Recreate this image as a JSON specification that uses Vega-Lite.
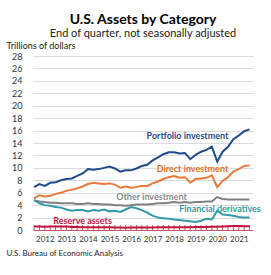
{
  "$schema": "https://vega.github.io/schema/vega-lite/v6.json",
  "width": 220,
  "height": 174,
  "autosize": "none",
  "padding": {"left": 33, "top": 56, "right": 18, "bottom": 45},
  "background": "white",
  "config": {"view": {"stroke": null}, "font": "Lato"},
  "resolve": {"axis": {"x": "independent", "y": "independent"}},
  "title": {
    "text": "U.S. Assets by Category",
    "subtitle": "End of quarter, not seasonally adjusted",
    "anchor": "middle",
    "font": "Lato",
    "fontSize": 14,
    "fontWeight": "bold",
    "color": "#000000",
    "subtitleFont": "Lato",
    "subtitleFontSize": 11,
    "subtitleColor": "#222222",
    "subtitlePadding": 1,
    "offset": 2
  },
  "datasets": {
    "assets": [
      {"t": 2011.5, "Portfolio investment": 6.9, "Direct investment": 5.1, "Other investment": 4.8, "Financial derivatives": 4.8, "Reserve assets": 0.55},
      {"t": 2011.75, "Portfolio investment": 7.4, "Direct investment": 5.6, "Other investment": 4.6, "Financial derivatives": 4.3, "Reserve assets": 0.55},
      {"t": 2012.0, "Portfolio investment": 7.1, "Direct investment": 5.4, "Other investment": 4.5, "Financial derivatives": 4.0, "Reserve assets": 0.54},
      {"t": 2012.25, "Portfolio investment": 7.6, "Direct investment": 5.5, "Other investment": 4.4, "Financial derivatives": 3.9, "Reserve assets": 0.56},
      {"t": 2012.5, "Portfolio investment": 7.7, "Direct investment": 5.8, "Other investment": 4.4, "Financial derivatives": 3.7, "Reserve assets": 0.57},
      {"t": 2012.75, "Portfolio investment": 8.0, "Direct investment": 6.0, "Other investment": 4.3, "Financial derivatives": 3.6, "Reserve assets": 0.57},
      {"t": 2013.0, "Portfolio investment": 8.2, "Direct investment": 6.3, "Other investment": 4.3, "Financial derivatives": 3.3, "Reserve assets": 0.55},
      {"t": 2013.25, "Portfolio investment": 8.3, "Direct investment": 6.5, "Other investment": 4.3, "Financial derivatives": 3.1, "Reserve assets": 0.48},
      {"t": 2013.5, "Portfolio investment": 8.7, "Direct investment": 6.7, "Other investment": 4.2, "Financial derivatives": 3.2, "Reserve assets": 0.49},
      {"t": 2013.75, "Portfolio investment": 9.1, "Direct investment": 7.0, "Other investment": 4.2, "Financial derivatives": 3.2, "Reserve assets": 0.45},
      {"t": 2014.0, "Portfolio investment": 9.8, "Direct investment": 7.4, "Other investment": 4.3, "Financial derivatives": 3.0, "Reserve assets": 0.45},
      {"t": 2014.25, "Portfolio investment": 9.7, "Direct investment": 7.6, "Other investment": 4.2, "Financial derivatives": 3.2, "Reserve assets": 0.46},
      {"t": 2014.5, "Portfolio investment": 9.8, "Direct investment": 7.5, "Other investment": 4.2, "Financial derivatives": 3.1, "Reserve assets": 0.45},
      {"t": 2014.75, "Portfolio investment": 10.0, "Direct investment": 7.4, "Other investment": 4.1, "Financial derivatives": 3.3, "Reserve assets": 0.43},
      {"t": 2015.0, "Portfolio investment": 10.2, "Direct investment": 7.5, "Other investment": 4.1, "Financial derivatives": 3.0, "Reserve assets": 0.43},
      {"t": 2015.25, "Portfolio investment": 9.9, "Direct investment": 7.3, "Other investment": 4.0, "Financial derivatives": 3.1, "Reserve assets": 0.42},
      {"t": 2015.5, "Portfolio investment": 9.4, "Direct investment": 6.8, "Other investment": 4.0, "Financial derivatives": 2.9, "Reserve assets": 0.40},
      {"t": 2015.75, "Portfolio investment": 9.6, "Direct investment": 7.0, "Other investment": 3.9, "Financial derivatives": 3.3, "Reserve assets": 0.38},
      {"t": 2016.0, "Portfolio investment": 9.6, "Direct investment": 6.8, "Other investment": 4.0, "Financial derivatives": 3.7, "Reserve assets": 0.40},
      {"t": 2016.25, "Portfolio investment": 9.9, "Direct investment": 6.9, "Other investment": 4.1, "Financial derivatives": 3.5, "Reserve assets": 0.42},
      {"t": 2016.5, "Portfolio investment": 10.3, "Direct investment": 7.1, "Other investment": 4.1, "Financial derivatives": 3.2, "Reserve assets": 0.42},
      {"t": 2016.75, "Portfolio investment": 10.5, "Direct investment": 7.1, "Other investment": 4.1, "Financial derivatives": 2.8, "Reserve assets": 0.40},
      {"t": 2017.0, "Portfolio investment": 11.2, "Direct investment": 7.5, "Other investment": 4.2, "Financial derivatives": 2.3, "Reserve assets": 0.41},
      {"t": 2017.25, "Portfolio investment": 11.7, "Direct investment": 7.8, "Other investment": 4.3, "Financial derivatives": 2.0, "Reserve assets": 0.43},
      {"t": 2017.5, "Portfolio investment": 12.2, "Direct investment": 8.2, "Other investment": 4.3, "Financial derivatives": 1.9, "Reserve assets": 0.44},
      {"t": 2017.75, "Portfolio investment": 12.5, "Direct investment": 8.5, "Other investment": 4.4, "Financial derivatives": 1.8, "Reserve assets": 0.45},
      {"t": 2018.0, "Portfolio investment": 12.5, "Direct investment": 8.7, "Other investment": 4.5, "Financial derivatives": 1.7, "Reserve assets": 0.45},
      {"t": 2018.25, "Portfolio investment": 12.3, "Direct investment": 8.4, "Other investment": 4.4, "Financial derivatives": 1.6, "Reserve assets": 0.45},
      {"t": 2018.5, "Portfolio investment": 12.4, "Direct investment": 8.5, "Other investment": 4.5, "Financial derivatives": 1.5, "Reserve assets": 0.44},
      {"t": 2018.75, "Portfolio investment": 11.4, "Direct investment": 7.6, "Other investment": 4.4, "Financial derivatives": 1.4, "Reserve assets": 0.45},
      {"t": 2019.0, "Portfolio investment": 12.1, "Direct investment": 8.2, "Other investment": 4.5, "Financial derivatives": 1.3, "Reserve assets": 0.47},
      {"t": 2019.25, "Portfolio investment": 12.6, "Direct investment": 8.3, "Other investment": 4.5, "Financial derivatives": 1.5, "Reserve assets": 0.48},
      {"t": 2019.5, "Portfolio investment": 12.9, "Direct investment": 8.4, "Other investment": 4.6, "Financial derivatives": 1.8, "Reserve assets": 0.50},
      {"t": 2019.75, "Portfolio investment": 13.4, "Direct investment": 8.8, "Other investment": 4.6, "Financial derivatives": 1.7, "Reserve assets": 0.52},
      {"t": 2020.0, "Portfolio investment": 11.0, "Direct investment": 6.9, "Other investment": 5.3, "Financial derivatives": 3.1, "Reserve assets": 0.53},
      {"t": 2020.25, "Portfolio investment": 12.6, "Direct investment": 7.9, "Other investment": 5.0, "Financial derivatives": 2.5, "Reserve assets": 0.58},
      {"t": 2020.5, "Portfolio investment": 13.4, "Direct investment": 8.5, "Other investment": 4.9, "Financial derivatives": 2.4, "Reserve assets": 0.62},
      {"t": 2020.75, "Portfolio investment": 14.6, "Direct investment": 9.4, "Other investment": 4.9, "Financial derivatives": 2.3, "Reserve assets": 0.63},
      {"t": 2021.0, "Portfolio investment": 15.2, "Direct investment": 9.8, "Other investment": 4.9, "Financial derivatives": 2.1, "Reserve assets": 0.63},
      {"t": 2021.25, "Portfolio investment": 15.9, "Direct investment": 10.3, "Other investment": 4.9, "Financial derivatives": 2.0, "Reserve assets": 0.62},
      {"t": 2021.5, "Portfolio investment": 16.2, "Direct investment": 10.4, "Other investment": 4.9, "Financial derivatives": 2.0, "Reserve assets": 0.62}
    ],
    "labels": [
      {"label": "Portfolio investment"},
      {"label": "Direct investment"},
      {"label": "Other investment"},
      {"label": "Financial derivatives"},
      {"label": "Reserve assets"}
    ]
  },
  "layer": [
    {
      "data": {"name": "assets"},
      "mark": {"type": "rule", "color": "#c4576b", "strokeWidth": 1},
      "encoding": {
        "x": {"field": "t", "type": "quantitative", "axis": null},
        "y": {"datum": 0, "axis": null},
        "y2": {"datum": 0.8}
      }
    },
    {
      "data": {"name": "assets"},
      "transform": [
        {"fold": ["Portfolio investment", "Direct investment", "Other investment", "Financial derivatives", "Reserve assets"], "as": ["series", "value"]}
      ],
      "mark": {"type": "line", "strokeWidth": 2},
      "encoding": {
        "x": {
          "field": "t",
          "type": "quantitative",
          "title": "U.S. Bureau of Economic Analysis",
          "scale": {"domain": [2011.45, 2021.66], "nice": false, "zero": false},
          "axis": {
            "values": [2012, 2013, 2014, 2015, 2016, 2017, 2018, 2019, 2020, 2021],
            "format": "d",
            "grid": false,
            "ticks": false,
            "domain": true,
            "domainColor": "#c4576b",
            "labelFont": "Lato",
            "labelFontSize": 8,
            "labelColor": "#333333",
            "labelPadding": 5,
            "labelOverlap": false,
            "titleX": -27,
            "titleY": 23,
            "titleAlign": "left",
            "titleBaseline": "middle",
            "titleFont": "Lato",
            "titleFontSize": 8,
            "titleFontWeight": "normal",
            "titleColor": "#222222"
          }
        },
        "y": {
          "field": "value",
          "type": "quantitative",
          "title": "Trillions of dollars",
          "scale": {"domain": [0, 28], "nice": false},
          "axis": {
            "values": [0, 2, 4, 6, 8, 10, 12, 14, 16, 18, 20, 22, 24, 26, 28],
            "domain": false,
            "ticks": false,
            "grid": true,
            "gridColor": "#dcdcdc",
            "labelFont": "Lato",
            "labelFontSize": 9,
            "labelColor": "#333333",
            "labelPadding": 11,
            "labelOverlap": false,
            "titleAngle": 0,
            "titleAlign": "left",
            "titleBaseline": "middle",
            "titleX": -27,
            "titleY": -11,
            "titleFont": "Lato",
            "titleFontSize": 9,
            "titleFontWeight": "normal",
            "titleColor": "#222222"
          }
        },
        "color": {
          "field": "series",
          "type": "nominal",
          "legend": null,
          "scale": {
            "domain": ["Portfolio investment", "Direct investment", "Other investment", "Financial derivatives", "Reserve assets"],
            "range": ["#1F4A8C", "#E8793A", "#808080", "#3399A6", "#C0143C"]
          }
        }
      }
    },
    {
      "data": {"name": "labels"},
      "transform": [{"filter": {"field": "label", "equal": "Portfolio investment"}}],
      "mark": {"type": "text", "font": "Lato", "fontWeight": "bold", "fontSize": 9, "color": "#1F4A8C"},
      "encoding": {"x": {"datum": 2018.62, "axis": null}, "y": {"datum": 15.2, "axis": null}, "text": {"field": "label"}}
    },
    {
      "data": {"name": "labels"},
      "transform": [{"filter": {"field": "label", "equal": "Direct investment"}}],
      "mark": {"type": "text", "font": "Lato", "fontWeight": "bold", "fontSize": 9, "color": "#E0702A"},
      "encoding": {"x": {"datum": 2018.85, "axis": null}, "y": {"datum": 9.8, "axis": null}, "text": {"field": "label"}}
    },
    {
      "data": {"name": "labels"},
      "transform": [{"filter": {"field": "label", "equal": "Other investment"}}],
      "mark": {"type": "text", "font": "Lato", "fontWeight": "bold", "fontSize": 9, "color": "#8c8c8c"},
      "encoding": {"x": {"datum": 2016.95, "axis": null}, "y": {"datum": 5.27, "axis": null}, "text": {"field": "label"}}
    },
    {
      "data": {"name": "labels"},
      "transform": [{"filter": {"field": "label", "equal": "Financial derivatives"}}],
      "mark": {"type": "text", "font": "Lato", "fontWeight": "bold", "fontSize": 9, "color": "#3399A6"},
      "encoding": {"x": {"datum": 2020.13, "axis": null}, "y": {"datum": 3.34, "axis": null}, "text": {"field": "label"}}
    },
    {
      "data": {"name": "labels"},
      "transform": [{"filter": {"field": "label", "equal": "Reserve assets"}}],
      "mark": {"type": "text", "font": "Lato", "fontWeight": "bold", "fontSize": 9, "color": "#C0143C"},
      "encoding": {"x": {"datum": 2013.75, "axis": null}, "y": {"datum": 1.5, "axis": null}, "text": {"field": "label"}}
    }
  ]
}
